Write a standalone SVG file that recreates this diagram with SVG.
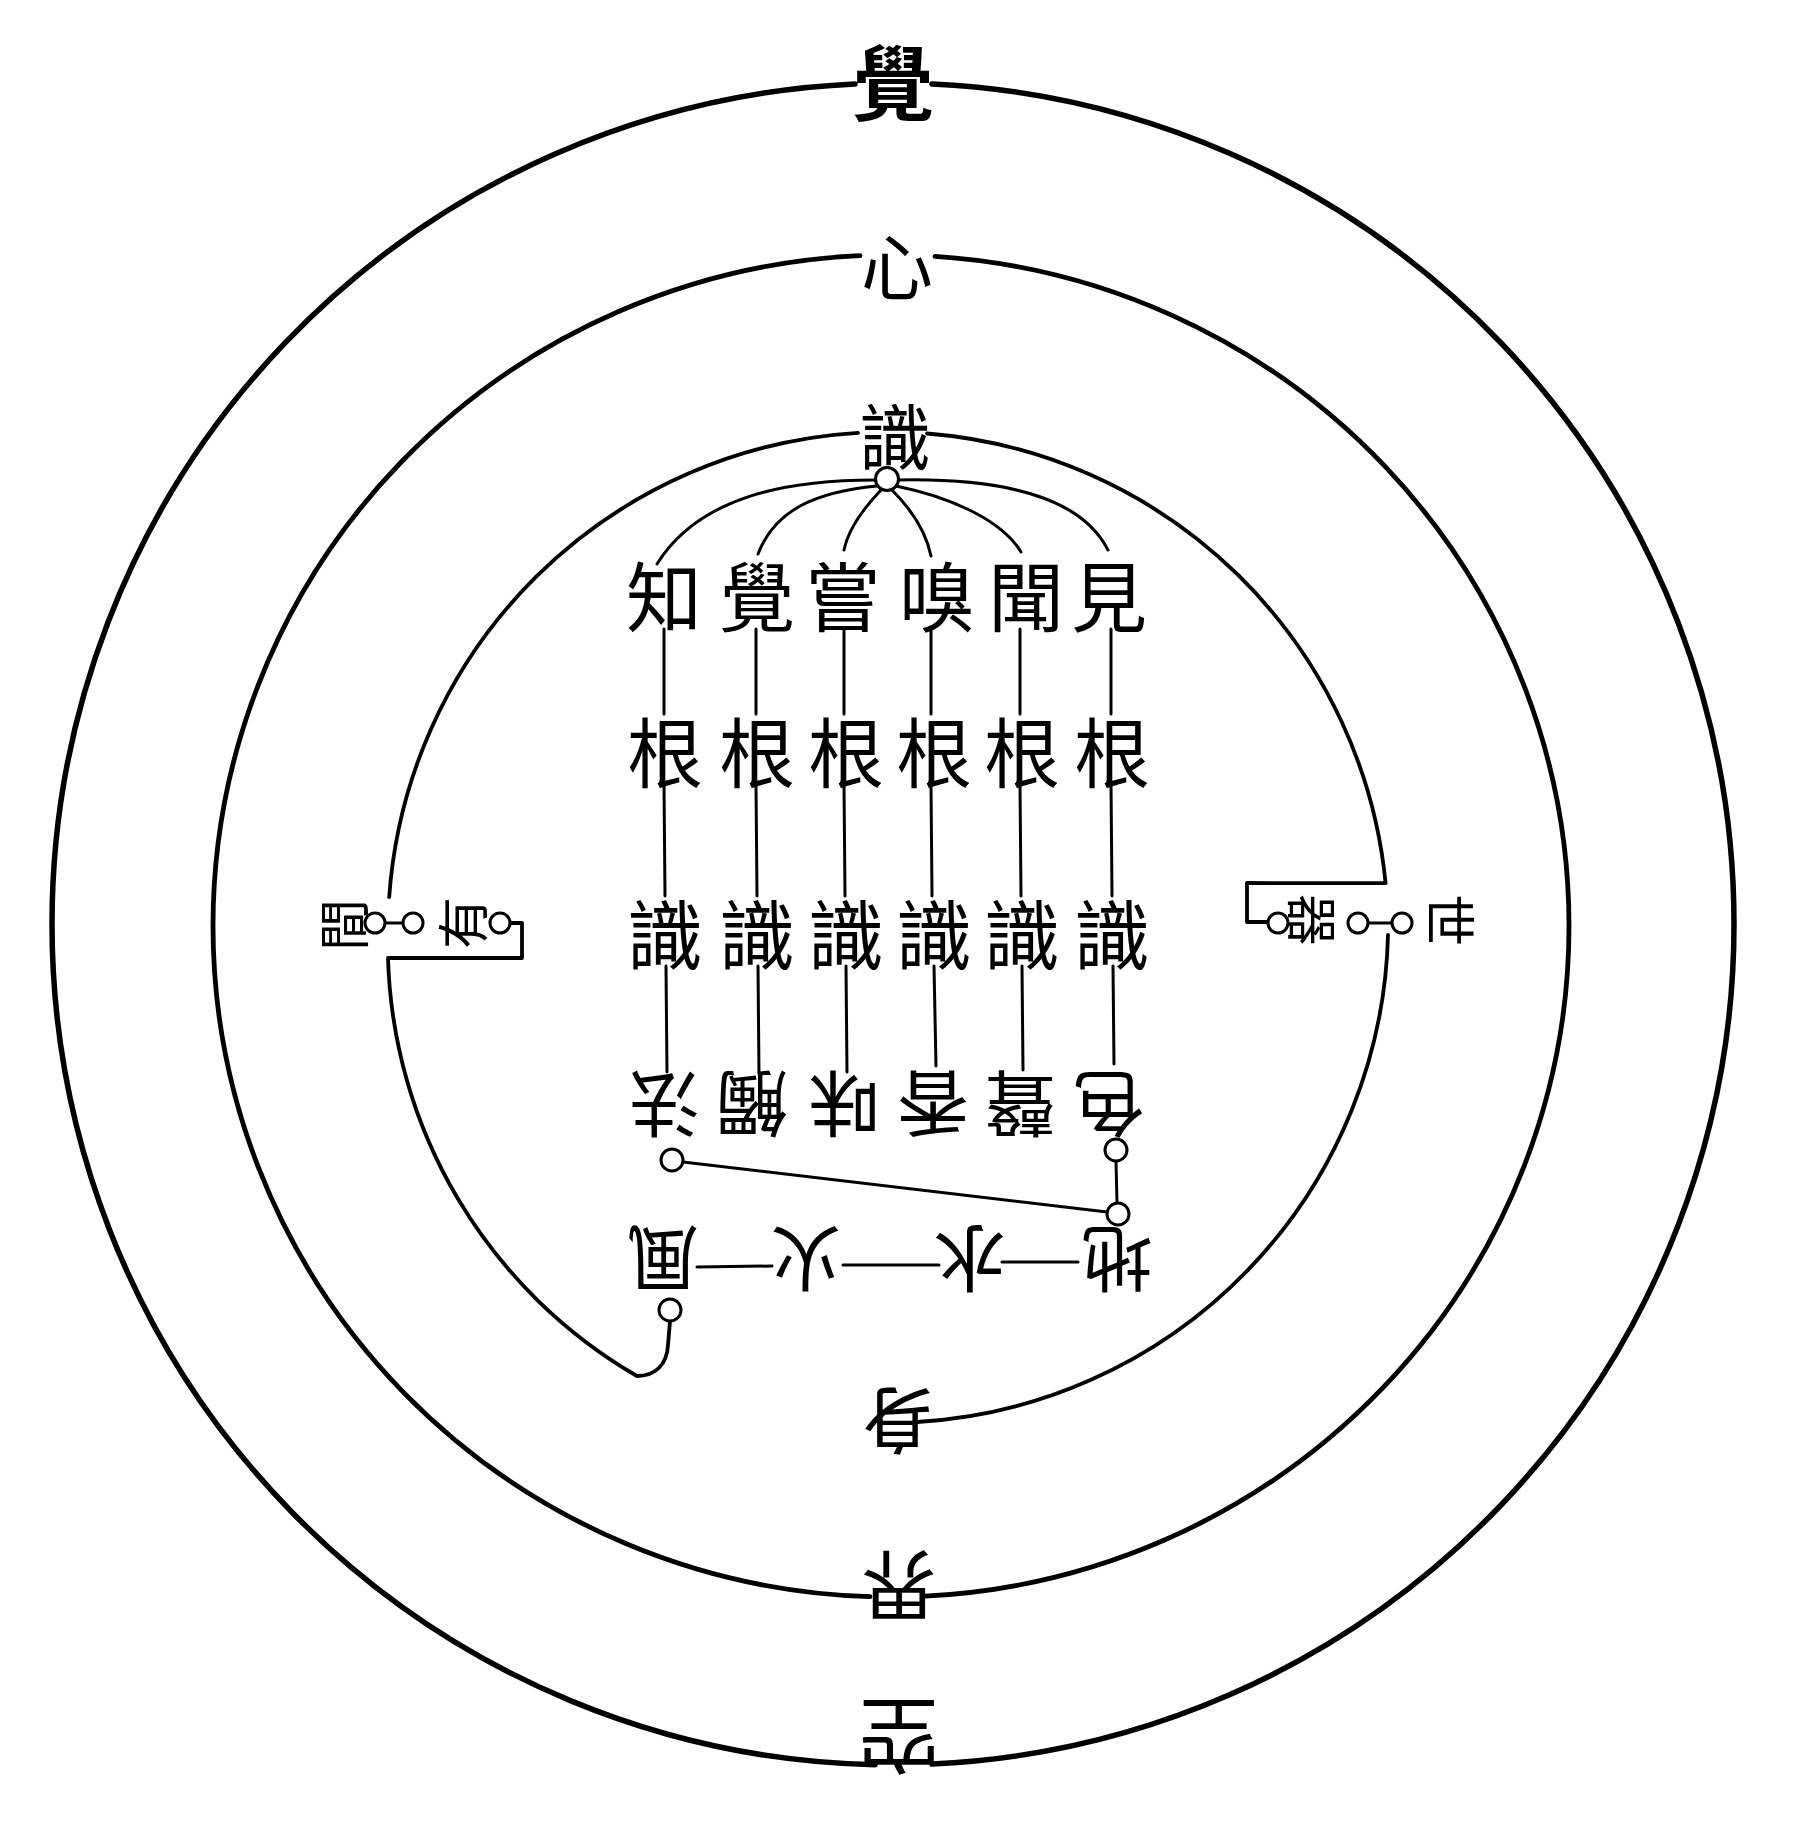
<svg xmlns="http://www.w3.org/2000/svg" width="1818" height="1830" viewBox="0 0 1818 1830">
<style>
.c{fill:none;stroke:#000;stroke-linecap:round;stroke-linejoin:round}
.o{stroke-width:5.5}
.m{stroke-width:4.8}
.i{stroke-width:3.8}
.l{stroke-width:3}
.n{fill:#fff;stroke:#000;stroke-width:3}
text{font-family:"Noto Sans CJK TC","Noto Sans CJK SC",sans-serif;fill:#000;text-anchor:middle;dominant-baseline:central}
.t1{font-size:76px}
.t2{font-size:72px}
.t3{font-size:52px}
</style>
<rect width="1818" height="1830" fill="#fff"/>
<g id="connectors">
  <path class="c o" d="M932,83.9 A841,841 0 0 1 1734,924 A841,841 0 0 1 932,1764.1"/>
  <path class="c o" d="M875,1764.8 A841,841 0 0 1 52,924 A841,841 0 0 1 855,83.9"/>
  <path class="c m" d="M935,256.4 A678,671 0 0 1 1569,926 A678,671 0 0 1 925,1596.2"/>
  <path class="c m" d="M870,1596.7 A678,671 0 0 1 213,926 A678,671 0 0 1 860,255.7"/>
  <path class="c i" d="M389.2,897.1 A500,500 0 0 1 858,432.9"/>
  <path class="c i" d="M927,433.5 A500,500 0 0 1 1385.6,883.2 L1247,883 L1247,922 L1267,922"/>
  <path class="c i" d="M511,923 L522,923 L522,958 L388,958 A500,500 0 0 0 637,1376 C655,1376 667,1365 668,1345 L670,1321"/>
  <path class="c i" d="M1388,935 A500,500 0 0 1 917,1422"/>
  <path class="c l" d="M385,923 L403,923"/>
  <path class="c l" d="M1368,923 L1392,923"/>
  <path class="c l" d="M875,480 C790,480 700,495 657,564"/>
  <path class="c l" d="M877,486 C815,492 775,510 758,554"/>
  <path class="c l" d="M881,490 C862,510 848,530 844,550"/>
  <path class="c l" d="M892,490 C912,510 926,532 931,556"/>
  <path class="c l" d="M896,486 C955,498 1003,522 1021,552"/>
  <path class="c l" d="M898,480 C1000,478 1080,495 1108,550"/>
  <path class="c l" d="M664,629 L664,714 M664,784 L665,896 M666,966 L667,1072"/>
  <path class="c l" d="M756,629 L756,714 M756,784 L757,896 M758,966 L759,1074"/>
  <path class="c l" d="M844,629 L844,714 M844,784 L845,896 M846,966 L847,1072"/>
  <path class="c l" d="M931,629 L931,714 M931,784 L932,896 M934,966 L936,1066"/>
  <path class="c l" d="M1020,629 L1020,714 M1020,784 L1021,896 M1022,966 L1023,1070"/>
  <path class="c l" d="M1111,629 L1111,714 M1111,784 L1112,896 M1113,966 L1114,1064"/>
  <path class="c l" d="M1116,1161 L1117,1203"/>
  <path class="c l" d="M683,1162 L1107,1212"/>
  <path class="c l" d="M697,1267 L772,1266"/>
  <path class="c l" d="M843,1265 L939,1265"/>
  <path class="c l" d="M1002,1262 L1078,1262"/>
</g>
<g id="node-jue-outer"><text x="893" y="78" style="font-size:82px;font-weight:700">覺</text></g>
<g id="node-xin"><text x="897" y="262" class="t2">心</text></g>
<g id="node-shi-top"><text x="895" y="432" class="t2">識</text><circle class="n" cx="887" cy="479" r="11.5"/></g>
<g id="node-zhi"><text x="664" y="593" class="t1">知</text></g>
<g id="node-jue"><text x="757" y="593" class="t1">覺</text></g>
<g id="node-chang"><text x="843" y="593" class="t1">嘗</text></g>
<g id="node-xiu"><text x="937" y="593" class="t1">嗅</text></g>
<g id="node-wen"><text x="1026" y="593" class="t1">聞</text></g>
<g id="node-jian"><text x="1109" y="593" class="t1">見</text></g>
<g id="node-gen">
  <text x="665" y="749" class="t1">根</text><text x="757" y="749" class="t1">根</text><text x="846" y="749" class="t1">根</text>
  <text x="934" y="749" class="t1">根</text><text x="1022" y="749" class="t1">根</text><text x="1112" y="749" class="t1">根</text>
</g>
<g id="node-shi">
  <text x="665" y="931" class="t1">識</text><text x="757" y="931" class="t1">識</text><text x="846" y="931" class="t1">識</text>
  <text x="934" y="931" class="t1">識</text><text x="1022" y="931" class="t1">識</text><text x="1112" y="931" class="t1">識</text>
</g>
<g id="node-chen">
  <text class="t2" transform="translate(664,1108) rotate(180)">法</text>
  <text class="t2" transform="translate(752,1108) rotate(180)">觸</text>
  <text class="t2" transform="translate(844,1108) rotate(180)">味</text>
  <text class="t2" transform="translate(933,1108) rotate(180)">香</text>
  <text class="t2" transform="translate(1020,1108) rotate(180)">聲</text>
  <text class="t2" transform="translate(1109,1108) rotate(180)">色</text>
  <circle class="n" cx="672" cy="1160" r="11"/>
  <circle class="n" cx="1116" cy="1150" r="11"/>
  <circle class="n" cx="1118" cy="1214" r="11"/>
</g>
<g id="node-feng"><text class="t2" transform="translate(663,1263) rotate(180)">風</text><circle class="n" cx="670" cy="1310" r="11"/></g>
<g id="node-huo"><text class="t2" transform="translate(806,1263) rotate(180)">火</text></g>
<g id="node-shui"><text class="t2" transform="translate(970,1263) rotate(180)">水</text></g>
<g id="node-di"><text class="t2" transform="translate(1117,1263) rotate(180)">地</text></g>
<g id="node-shen"><text class="t2" transform="translate(897,1425) rotate(180)">身</text></g>
<g id="node-jie"><text transform="translate(899,1590) rotate(180)" style="font-size:76px">界</text></g>
<g id="node-kong"><text transform="translate(899,1740) rotate(180)" style="font-size:82px">空</text></g>
<g id="node-left">
  <text class="t3" transform="translate(341,925) rotate(-90)">間</text>
  <circle class="n" cx="375" cy="923" r="10"/>
  <circle class="n" cx="413" cy="923" r="10"/>
  <text class="t3" transform="translate(460,923) rotate(-90)">有</text>
  <circle class="n" cx="500" cy="923" r="10"/>
</g>
<g id="node-right">
  <circle class="n" cx="1278" cy="923" r="10"/>
  <text class="t3" transform="translate(1314,920) rotate(90)">器</text>
  <circle class="n" cx="1358" cy="923" r="10"/>
  <circle class="n" cx="1402" cy="923" r="10"/>
  <text class="t3" transform="translate(1452,920) rotate(90)">世</text>
</g>
</svg>
